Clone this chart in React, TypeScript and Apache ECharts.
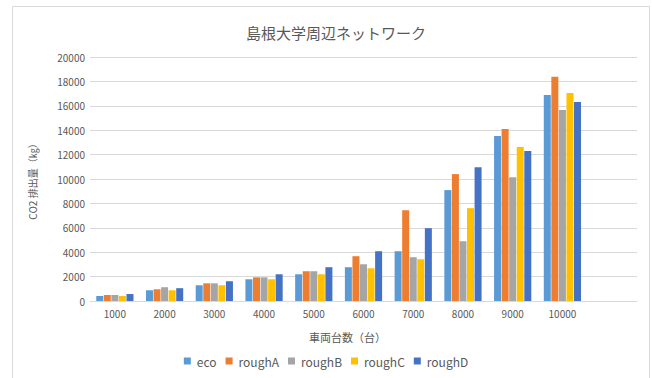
import React, { useEffect, useRef } from "react";
import * as echarts from "echarts";

const categories = ["1000", "2000", "3000", "4000", "5000", "6000", "7000", "8000", "9000", "10000", ""];
const eco = [410, 880, 1290, 1780, 2190, 2770, 4080, 9090, 13520, 16880, null];
const roughA = [490, 960, 1450, 1940, 2440, 3670, 7440, 10400, 14090, 18380, null];
const roughB = [490, 1130, 1450, 1940, 2440, 3010, 3590, 4900, 10150, 15650, null];
const roughC = [410, 880, 1290, 1780, 2190, 2680, 3420, 7610, 12620, 17050, null];
const roughD = [570, 1050, 1620, 2190, 2770, 4080, 5970, 10970, 12290, 16310, null];

const seriesNames = ["eco", "roughA", "roughB", "roughC", "roughD"];
const seriesData = [eco, roughA, roughB, roughC, roughD];
const colors = ["#5B9BD5", "#ED7D31", "#A5A5A5", "#FFC000", "#4472C4"];

const FONT = "'Noto Sans CJK JP', 'Noto Sans', sans-serif";

export default function App() {
  const ref = useRef<HTMLDivElement>(null);
  useEffect(() => {
    if (!ref.current) return;
    const chart = echarts.init(ref.current, null, { renderer: "svg" });
    chart.setOption({
      animation: false,
      backgroundColor: "#ffffff",
      color: colors,
      textStyle: { fontFamily: FONT },
      title: {
        text: "島根大学周辺ネットワーク",
        left: 331,
        top: 20,
        textAlign: "center",
        textStyle: { fontFamily: FONT, fontSize: 15, fontWeight: "normal", color: "#595959" },
      },
      graphic: [
        {
          type: "rect",
          shape: { x: 12.5, y: 6.5, width: 637, height: 400 },
          style: { fill: "none", stroke: "#d9d9d9", lineWidth: 1 },
          silent: true,
        },
      ],
      legend: {
        data: seriesNames,
        bottom: 6,
        left: "center",
        itemWidth: 7,
        itemHeight: 7,
        itemGap: 9,
        icon: "rect",
        textStyle: { fontFamily: FONT, fontSize: 12, color: "#595959", padding: [0, 0, 0, 1] },
      },
      grid: { left: 90, right: 15, top: 57, bottom: 77 },
      xAxis: {
        type: "category",
        data: categories,
        name: "車両台数（台）",
        nameLocation: "middle",
        nameGap: 30,
        nameTextStyle: { fontFamily: FONT, fontSize: 11, color: "#595959", padding: [0, 32, 0, 0] },
        axisLine: { lineStyle: { color: "#d9d9d9" } },
        axisTick: { show: false },
        axisLabel: { fontFamily: FONT, fontSize: 10, color: "#595959", margin: 7 },
      },
      yAxis: {
        type: "value",
        min: 0,
        max: 20000,
        interval: 2000,
        name: "CO2 排出量（㎏）",
        nameLocation: "middle",
        nameGap: 53,
        nameTextStyle: { fontFamily: FONT, fontSize: 10, color: "#595959" },
        axisLine: { show: false },
        axisTick: { show: false },
        axisLabel: {
          fontFamily: FONT,
          fontSize: 10,
          color: "#595959",
          margin: 5,
          formatter: (v: number) => String(v),
        },
        splitLine: { lineStyle: { color: "#d9d9d9" } },
      },
      series: seriesNames.map((n, i) => ({
        name: n,
        type: "bar",
        data: seriesData[i],
        barWidth: 7,
        barGap: "8%",
        itemStyle: { color: colors[i] },
      })),
    });
    return () => chart.dispose();
  }, []);
  return (
    <div
      ref={ref}
      style={{ position: "fixed", left: 0, top: 0, width: 652, height: 378 }}
    />
  );
}
